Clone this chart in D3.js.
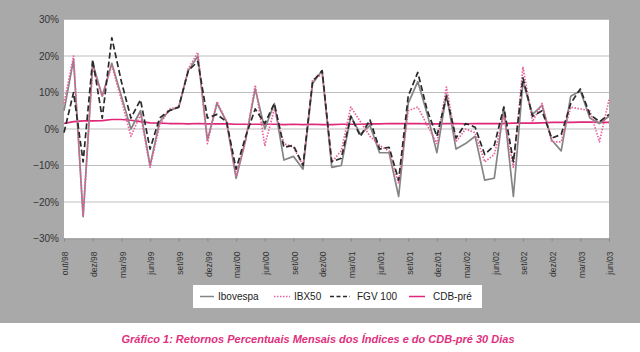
<!DOCTYPE html>
<html><head><meta charset="utf-8">
<script src="https://cdn.jsdelivr.net/npm/d3@7"></script>
<style>body{margin:0;background:#fff}svg{display:block}text{font-family:"Liberation Sans",Arial,sans-serif}</style>
</head><body><svg id="c" width="640" height="352"></svg>
<script>
const tickLabels = ["out/98","dez/98","mar/99","jun/99","set/99","dez/99","mar/00","jun/00","set/00","dez/00","mar/01","jun/01","set/01","dez/01","mar/02","jun/02","set/02","dez/02","mar/03","jun/03"];
const ibovespa = [5,19,-24,18,9,18,9,0,5,-10,2,5,6,16,20,-3,7,2,-13.5,-3,11,0,7,-8.5,-7.5,-11,12.5,16,-10.5,-10,3.5,-1.5,1,-6.5,-6.5,-18.5,7,13,4,-6.5,9.5,-5.5,-4,-2,-14,-13.5,6,-18.5,13,4,6.5,-3,-6,9,10.5,3,1.5,3.5];
const ibx50 = [7,20,-24,17,9,17.5,8,-2,4,-10.5,1,5.5,6,16.5,21,-4,7.5,2,-13,-3,12,-4.5,5.5,-4,-5,-10,13.5,15,-9,-6,6,2,-2,-4.5,-6,-15,5,6,1,-4,11.5,-3.5,0,-1,-9,-7,3.5,-10.5,17,2,7,-3.5,-3.5,6,5.5,5,-3.5,8];
const fgv100 = [-1,10,-9,19,3,25,13,3,8,-5.5,3,5,6,16,18.5,3,4,2,-11,-2,5.5,1.5,7,-5,-4.5,-10,13,16,-9,-8,3.5,-2,2.5,-5.5,-5,-14,9,15.5,5,-2,9,-2.5,1.5,0.5,-7,-4.5,6,-9,14,3.5,5,-2.5,-1.5,7,11,4,2,4];
const cdbPre = [1.5,2.0,2.2,2.2,2.3,2.6,2.6,2.4,2.0,1.7,1.6,1.5,1.5,1.4,1.5,1.4,1.4,1.4,1.3,1.3,1.3,1.3,1.3,1.2,1.3,1.2,1.3,1.2,1.2,1.3,1.3,1.3,1.4,1.4,1.5,1.5,1.5,1.5,1.4,1.4,1.5,1.5,1.4,1.5,1.5,1.5,1.5,1.6,1.6,1.6,1.7,1.8,1.8,1.8,1.9,1.9,1.8,1.8];
const yTicks = [-30,-20,-10,0,10,20,30];
const seriesNames = ["Ibovespa","IBX50","FGV 100","CDB-pré"];
const caption = "Gráfico 1: Retornos Percentuais Mensais dos Índices e do CDB-pré 30 Dias";

const svg = d3.select("#c");
svg.append("rect").attr("x",0).attr("y",0).attr("width",640).attr("height",323).attr("fill","#a9a9a9");
const L=64,R=609,T=19.5,B=238.5;
svg.append("rect").attr("x",L).attr("y",T).attr("width",R-L).attr("height",B-T).attr("fill","#fff");

const x = d3.scaleLinear().domain([0,ibovespa.length-1]).range([L,R]);
const y = d3.scaleLinear().domain([-30,30]).range([B,T]);

svg.append("g").selectAll("line").data(yTicks).join("line")
  .attr("x1",L).attr("x2",R).attr("y1",d=>y(d)).attr("y2",d=>y(d))
  .attr("stroke","#bdbdbd").attr("stroke-width",1);

const ya = svg.append("g").attr("transform",`translate(${L},0)`)
  .call(d3.axisLeft(y).tickValues(yTicks).tickSize(0).tickPadding(5).tickFormat(d=>d3.format("d")(d)+"%"));
ya.select(".domain").remove();
ya.selectAll("text").attr("font-size",10).attr("fill","#333").style("font-family","'Liberation Sans',Arial");

const xt = d3.range(0,ibovespa.length,3);
const xa = svg.append("g").attr("transform",`translate(0,${B})`)
  .call(d3.axisBottom(x).tickValues(xt).tickSize(3).tickFormat((d,i)=>tickLabels[i]));
xa.select(".domain").attr("stroke","#999");
xa.selectAll(".tick line").attr("stroke","#888");
xa.selectAll("text").attr("font-size",8.5).attr("fill","#333").style("font-family","'Liberation Sans',Arial")
  .attr("text-anchor","end").attr("transform","rotate(-90)").attr("x",-13).attr("y",0).attr("dy","0.45em");

const line = d3.line().x((d,i)=>x(i)).y(d=>y(d));
const styles = [
  {data:ibovespa,color:"#858585",dash:null,w:1.7},
  {data:ibx50,color:"#e8609c",dash:"1.5,1.5",w:1.7},
  {data:fgv100,color:"#2a2a2a",dash:"6,3",w:1.7},
  {data:cdbPre,color:"#e0287a",dash:null,w:1.7}
];
[3,0,1,2].forEach(k=>{
  const s=styles[k];
  svg.append("path").datum(s.data).attr("d",line).attr("fill","none")
    .attr("stroke",s.color).attr("stroke-width",s.w).attr("stroke-dasharray",s.dash)
    .attr("stroke-linejoin","round");
});

const lg = svg.append("g");
lg.append("rect").attr("x",193).attr("y",285).attr("width",289).attr("height",23).attr("fill","#fff");
const legendX=[[200,214,218],[274,290,294],[330,350,357],[409,425,433]];
seriesNames.forEach((n,k)=>{
  const s=styles[k], p=legendX[k];
  lg.append("line").attr("x1",p[0]).attr("x2",p[1]).attr("y1",296.5).attr("y2",296.5)
    .attr("stroke",s.color).attr("stroke-width",1.5).attr("stroke-dasharray",s.dash?(k===2?"4,2.5":"1.5,1.5"):null);
  lg.append("text").attr("x",p[2]).attr("y",300).attr("font-size",10).attr("fill","#222").text(n);
});

svg.append("text").attr("x",318).attr("y",343).attr("text-anchor","middle")
  .attr("font-size",11).attr("font-weight","bold").attr("font-style","italic")
  .attr("fill","#e0307d").text(caption);
</script></body></html>
